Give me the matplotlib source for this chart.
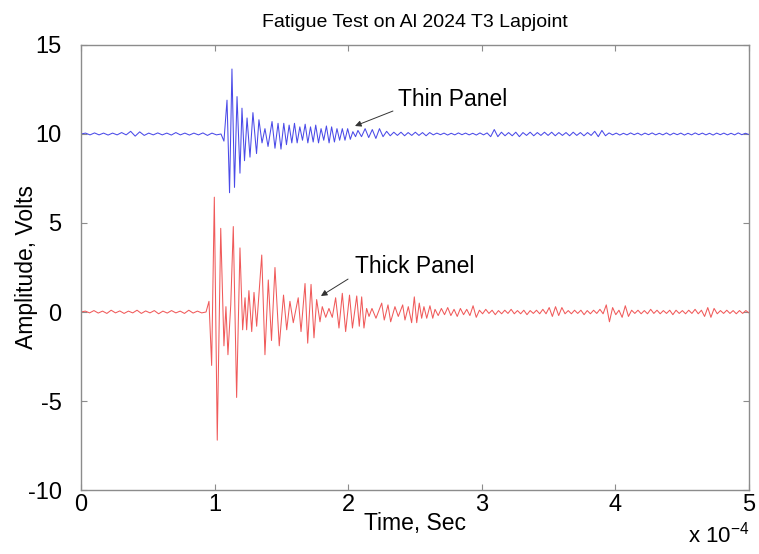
import numpy as np
import matplotlib
matplotlib.use("Agg")
import matplotlib.pyplot as plt

plt.rcParams["font.family"] = ["Liberation Sans", "DejaVu Sans"]
plt.rcParams["mathtext.default"] = "regular"

# time in units of 1e-4 s, amplitude in volts
# thick panel (red) -- quiet lead-in, burst extrema, low-level tail
thick_pre = [0.0, 0.05, -0.05, 0.08, -0.06, 0.05, -0.08, 0.1, -0.05, 0.06,
             -0.08, 0.05, -0.05, 0.1, -0.08, 0.06, -0.05, 0.08, -0.1, 0.05,
             -0.06, 0.08, -0.05, 0.05, -0.08, 0.1, -0.06, 0.05, -0.05, 0.0]
thick_t = [0.958, 0.978, 0.998, 1.020, 1.046, 1.070, 1.085, 1.100, 1.121, 1.140,
           1.165, 1.190, 1.210, 1.228, 1.240, 1.257, 1.278, 1.295, 1.315, 1.353,
           1.377, 1.402, 1.426, 1.452, 1.484, 1.516, 1.540, 1.564, 1.589, 1.626,
           1.647, 1.677, 1.697, 1.722, 1.744, 1.764, 1.789, 1.806, 1.832, 1.856,
           1.881, 1.906, 1.931, 1.956, 1.981, 2.010, 2.032, 2.064, 2.083, 2.101,
           2.118, 2.138, 2.156, 2.178, 2.208, 2.251, 2.270, 2.298, 2.318, 2.350,
           2.375, 2.408, 2.425, 2.450, 2.475, 2.495, 2.513, 2.532, 2.550, 2.567,
           2.588, 2.612, 2.633]
thick_v = [0.6, -3.0, 6.45, -7.2, 4.7, -1.9, 0.3, -2.4, 0.4, 4.8,
           -4.8, 3.6, -1.0, 0.8, -1.0, 1.2, -1.1, 1.1, -0.8, 3.2,
           -2.4, 1.8, -1.6, 2.5, -1.9, 0.95, -1.0, 0.6, -0.6, 0.8,
           -1.1, 1.6, -1.75, 1.55, -1.45, 0.7, -0.55, 0.3, -0.3, 0.2,
           -0.3, 0.8, -0.9, 1.05, -1.1, 0.95, -0.9, 0.9, -0.8, 0.85,
           -0.9, 0.2, -0.25, 0.2, -0.35, 0.5, -0.45, 0.4, -0.55, 0.3,
           -0.25, 0.4, -0.45, 0.3, -0.6, 0.85, -0.6, 0.5, -0.35, 0.3,
           -0.35, 0.35, -0.35]
thick_tail = [0.15, -0.2, 0.2, -0.15, 0.25, -0.2, 0.15, -0.25, 0.2, -0.15, 0.15, -0.2,
              0.35, -0.3,
              0.1, -0.1, 0.15, -0.08, 0.1, -0.15, 0.08, -0.1, 0.1, -0.08, 0.15,
              -0.1, 0.08, -0.1, 0.1, -0.15, 0.08, -0.08, 0.1, -0.1, 0.15, -0.1,
              0.25, -0.25, 0.3, -0.2, 0.25,
              -0.1, 0.08, -0.1, 0.1, -0.08, 0.1, -0.15, 0.08, -0.1, 0.1, -0.08,
              0.15, -0.1,
              0.4, -0.55, 0.25, -0.15, 0.1,
              -0.3, 0.35, -0.25,
              0.1, -0.08, 0.1, -0.1, 0.08, -0.1, 0.15, -0.08, 0.1, -0.1, 0.08,
              -0.08, 0.1, -0.15, 0.1, -0.08, 0.08, -0.1, 0.1, -0.08, 0.15, -0.1, 0.1,
              -0.25, 0.25, -0.3, 0.2,
              -0.1, 0.08, -0.08, 0.1, -0.08, 0.08, -0.1, 0.08, -0.08, 0.08, -0.05]

# thin panel (blue), values are deviations from its 10 V offset
thin_offset = 10.0
thin_pre = [0.0, 0.05, -0.05, 0.06, -0.05, 0.05, -0.06, 0.05, -0.05, 0.08,
            -0.05, 0.15, -0.12, 0.12, -0.08, 0.05, -0.05, 0.06, -0.05, 0.05,
            -0.06, 0.08, -0.05, 0.05, -0.06, 0.05, -0.05, 0.06, -0.08, 0.05,
            -0.05, 0.0]
thin_t = [1.070, 1.093, 1.112, 1.130, 1.149, 1.168, 1.190, 1.205, 1.224, 1.243,
          1.265, 1.287, 1.314, 1.332, 1.355, 1.377, 1.400, 1.430, 1.452, 1.475,
          1.497, 1.518, 1.538, 1.558, 1.578, 1.598, 1.618, 1.638, 1.658, 1.678,
          1.698, 1.718, 1.738, 1.757, 1.778, 1.797, 1.817, 1.837, 1.857, 1.876,
          1.897, 1.916, 1.936, 1.956, 1.976, 1.996, 2.016, 2.035, 2.055]
thin_v = [-0.4, 1.9, -3.3, 3.65, -3.0, 2.1, -2.2, 1.45, -1.5, 0.9,
          -1.3, 1.2, -1.1, 0.8, -0.5, 0.3, -0.7, 0.7, -0.8, 0.6,
          -0.85, 0.6, -0.6, 0.5, -0.5, 0.6, -0.5, 0.4, -0.35, 0.55,
          -0.5, 0.4, -0.45, 0.5, -0.5, 0.3, -0.35, 0.45, -0.5, 0.4,
          -0.45, 0.3, -0.35, 0.3, -0.35, 0.3, -0.3, 0.13, -0.15]
thin_tail = [0.2, -0.15, 0.3, -0.2, 0.25, -0.25, 0.3, -0.15, 0.15,
             -0.1, 0.1, -0.08, 0.1, -0.1, 0.08, -0.08, 0.1, -0.08, 0.08, -0.1, 0.08,
             -0.05, 0.05, -0.04, 0.05, -0.06, 0.04, -0.05, 0.06, -0.04, 0.05, -0.05,
             0.04, -0.06, 0.06, -0.05, 0.06,
             -0.15, 0.25, -0.15, 0.1,
             -0.1, 0.08, -0.1, 0.1, -0.15, 0.08, -0.08, 0.1, -0.1, 0.08, -0.08,
             0.1, -0.08, 0.1, -0.1, 0.08, -0.08, 0.08, -0.1, 0.1, -0.08, 0.08,
             -0.1, 0.08, -0.08,
             0.15, -0.15, 0.2, -0.1,
             0.06, -0.05, 0.05, -0.06, 0.04, -0.05, 0.06, -0.04, 0.05, -0.06, 0.05,
             -0.04, 0.06, -0.05, 0.04, -0.05, 0.06, -0.06, 0.05, -0.04, 0.05, -0.06,
             0.04, -0.05, 0.06, -0.04, 0.05, -0.05, 0.04, -0.06, 0.05, -0.04, 0.05,
             -0.05, 0.04, -0.05, 0.06, -0.04, 0.04, -0.03]

x_ticks = [0, 1, 2, 3, 4, 5]
y_ticks = [-10, -5, 0, 5, 10, 15]


def build_series(pre, pre_end, t_burst, v_burst, tail, tail_start):
    # recorded signal: uniformly sampled quiet parts around the read extrema
    t = np.concatenate([np.linspace(0, pre_end, len(pre)), t_burst,
                        np.linspace(tail_start, 5.0, len(tail))])
    v = np.concatenate([pre, v_burst, tail])
    return t * 1e-4, v


t_thick, v_thick = build_series(thick_pre, 0.936, thick_t, thick_v, thick_tail, 2.650)
t_thin, v_thin = build_series(thin_pre, 1.048, thin_t, thin_v, thin_tail, 2.073)
v_thin = v_thin + thin_offset

fig = plt.figure(figsize=(7.59, 5.54), dpi=100)
ax = fig.add_axes([0.1067, 0.1155, 0.8801, 0.8033])

ax.plot(t_thin, v_thin, color="#4a4ae8", lw=0.75)
ax.plot(t_thick, v_thick, color="#f05a5a", lw=0.75)

ax.set_xlim(0, 5e-4)
ax.set_ylim(-10, 15)
ax.set_xticks([x * 1e-4 for x in x_ticks])
ax.set_xticklabels([str(x) for x in x_ticks])
ax.set_yticks(y_ticks)
ax.set_yticklabels([str(y) for y in y_ticks])

for sp in ax.spines.values():
    sp.set_color("#8c8c8c")
    sp.set_linewidth(1.0)
ax.tick_params(direction="in", length=4, width=0.8, color="#8c8c8c",
               labelsize=17, top=True, right=True)
ax.tick_params(axis="y", pad=14)
ax.tick_params(axis="x", pad=3)

ax.set_title("Fatigue Test on Al 2024 T3 Lapjoint", fontsize=14, pad=13)
ax.set_xlabel("Time, Sec", fontsize=16.5, labelpad=-3)
ax.set_ylabel("Amplitude, Volts", fontsize=16.5)
ax.yaxis.set_label_coords(-0.064, 0.5)

arrow = dict(arrowstyle="-|>", color="#333333", lw=0.7, mutation_scale=9,
             shrinkA=0, shrinkB=0)
ax.annotate("", xy=(2.051e-4, 10.45), xytext=(2.335e-4, 11.29), arrowprops=arrow)
ax.text(2.373e-4, 11.91, "Thin Panel", fontsize=16.5, va="center", ha="left")
ax.annotate("", xy=(1.796e-4, 0.9), xytext=(1.999e-4, 1.85), arrowprops=arrow)
ax.text(2.051e-4, 2.58, "Thick Panel", fontsize=16.5, va="center", ha="left")

fig.text(0.988, 0.012, r"x 10$^{-4}$", fontsize=16, ha="right", va="bottom")

fig.savefig("out.png", dpi=100)
